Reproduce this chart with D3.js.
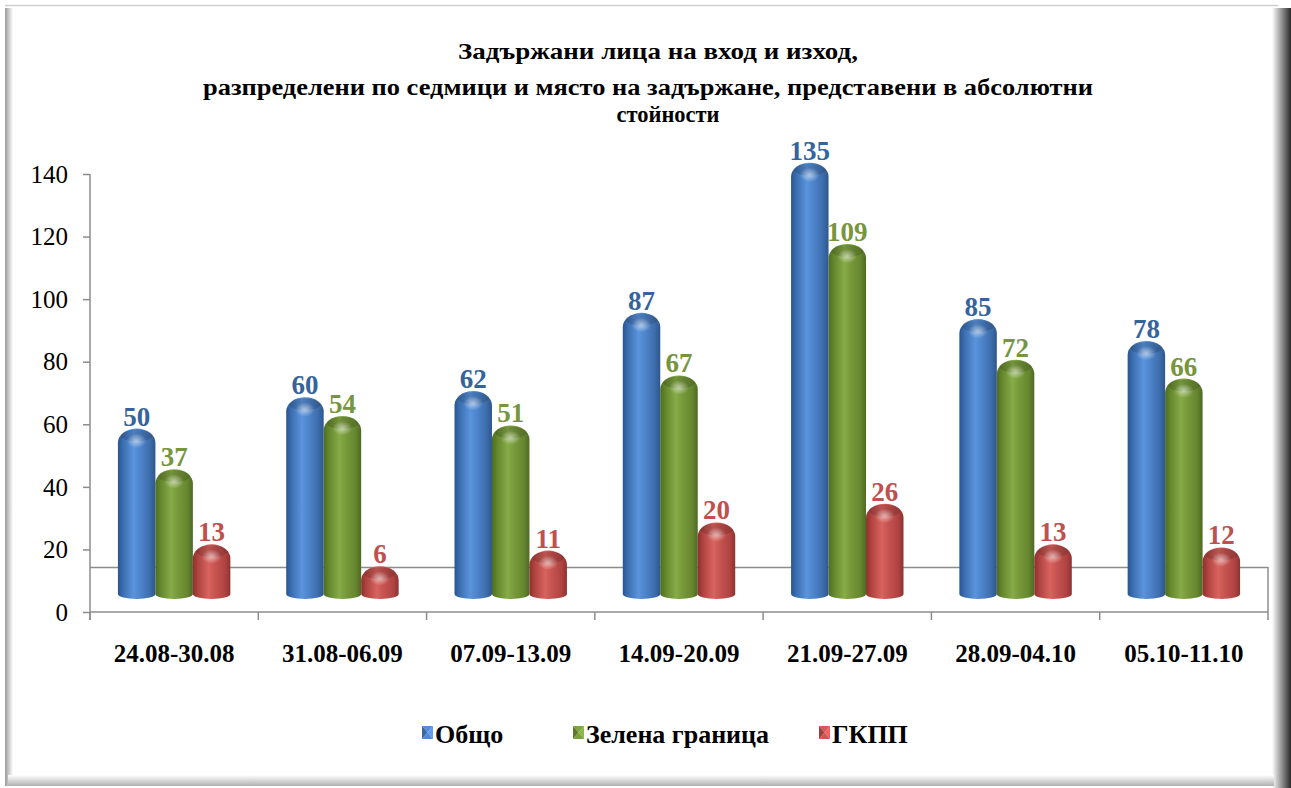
<!DOCTYPE html>
<html>
<head>
<meta charset="utf-8">
<script src="https://cdn.jsdelivr.net/npm/d3@7"></script>
<style>
  html, body { margin: 0; padding: 0; background: #fff; }
  svg { display: block; }
  text { font-family: "Liberation Serif", "Times New Roman", serif; }
</style>
</head>
<body>
<div id="chart"></div>
<script>
// data
var categories = ["24.08-30.08", "31.08-06.09", "07.09-13.09", "14.09-20.09", "21.09-27.09", "28.09-04.10", "05.10-11.10"];
var seriesNames = ["Общо", "Зелена граница", "ГКПП"];
var obshto = [50, 60, 62, 87, 135, 85, 78];
var zelena = [37, 54, 51, 67, 109, 72, 66];
var gkpp = [13, 6, 11, 20, 26, 13, 12];
var yTicks = [0, 20, 40, 60, 80, 100, 120, 140];
var titleLines = ["Задържани лица на вход и изход,",
                  "разпределени по седмици  и  място на задържане, представени в абсолютни",
                  "стойности"];

var W = 1291, H = 788;
var plot = {left: 90, right: 1268, top: 174, bottom: 612};
var depth = 27; // 3d offset of the bars above the axis zero

var seriesValues = [obshto, zelena, gkpp];
var colors = [
    {stops: ["#2a558e", "#3d70b3", "#5a94dc", "#4d84cb", "#3e6dac", "#2d578c"], label: "#35649c"},
    {stops: ["#4f6c22", "#66882e", "#86ab47", "#77993a", "#66872f", "#4f6a22"], label: "#76953d"},
    {stops: ["#8e302e", "#b14541", "#d8635f", "#c65350", "#b04442", "#8f3230"], label: "#c0504d"}
];

var svg = d3.select("#chart").append("svg")
    .attr("width", W)
    .attr("height", H);

var defs = svg.append("defs");

// cylinder shading gradients
colors.forEach(function(c, i) {
    var g = defs.append("linearGradient").attr("id", "cyl" + i)
        .attr("x1", "0%").attr("x2", "100%").attr("y1", "0%").attr("y2", "0%");
    var offs = [0, 0.15, 0.42, 0.6, 0.85, 1];
    offs.forEach(function(o, k) {
        g.append("stop").attr("offset", o).attr("stop-color", c.stops[k]);
    });
});
var hl = defs.append("radialGradient").attr("id", "hilite")
    .attr("cx", "45%").attr("cy", "45%").attr("r", "45%");
hl.append("stop").attr("offset", 0).attr("stop-color", "#fff").attr("stop-opacity", 0.55);
hl.append("stop").attr("offset", 1).attr("stop-color", "#fff").attr("stop-opacity", 0);

// frame shadows
function lin(id, x2, y2, c1, c2) {
    var g = defs.append("linearGradient").attr("id", id)
        .attr("x1", 0).attr("y1", 0).attr("x2", x2).attr("y2", y2);
    g.append("stop").attr("offset", 0).attr("stop-color", c1);
    g.append("stop").attr("offset", 1).attr("stop-color", c2);
}
lin("shLeft", 1, 0, "#9a9a9a", "#ffffff");
lin("shRight", 1, 0, "#ffffff", "#2a2a2a");
lin("shBottom", 0, 1, "#ffffff", "#b0b0b0");

svg.append("rect").attr("x", 0).attr("y", 0).attr("width", W).attr("height", H).attr("fill", "#fff");
svg.append("rect").attr("x", 5).attr("y", 8).attr("width", 8).attr("height", 778).attr("fill", "url(#shLeft)");
svg.append("rect").attr("x", 1272).attr("y", 8).attr("width", 19).attr("height", 780).attr("fill", "url(#shRight)");
svg.append("rect").attr("x", 8).attr("y", 775).attr("width", 1266).attr("height", 11).attr("fill", "url(#shBottom)");
svg.append("line").attr("x1", 5).attr("x2", 1278).attr("y1", 5.5).attr("y2", 5.5)
    .attr("stroke", "#cfcfcf").attr("stroke-width", 1.5);

// title
var titlePos = [{x: 658, y: 59}, {x: 648, y: 95}, {x: 668, y: 122}];
var titleLen = [400, 890, 103];
svg.append("g").selectAll("text")
    .data(titleLines)
    .enter().append("text")
    .attr("x", function(d, i) { return titlePos[i].x; })
    .attr("y", function(d, i) { return titlePos[i].y; })
    .attr("text-anchor", "middle")
    .attr("font-weight", "bold")
    .attr("font-size", 23)
    .attr("textLength", function(d, i) { return titleLen[i]; })
    .attr("lengthAdjust", "spacingAndGlyphs")
    .text(function(d) { return d; });

// scales
var x0 = d3.scaleBand().domain(categories).range([plot.left, plot.right]).paddingInner(0).paddingOuter(0);
var x1 = d3.scaleBand().domain(seriesNames).range([0, x0.bandwidth()]).paddingInner(0).paddingOuter(0.745);
var y = d3.scaleLinear().domain([0, 140]).range([plot.bottom, plot.top]);

// floor box (back edge + right edge)
var axisColor = "#8c8c8c";
svg.append("line").attr("x1", plot.left).attr("x2", plot.right).attr("y1", 567.5).attr("y2", 567.5)
    .attr("stroke", axisColor).attr("stroke-width", 1.5);
svg.append("line").attr("x1", plot.right).attr("x2", plot.right).attr("y1", 567).attr("y2", plot.bottom)
    .attr("stroke", axisColor).attr("stroke-width", 1.5);

// y axis
var yAxis = svg.append("g")
    .attr("transform", "translate(" + plot.left + ",0)")
    .call(d3.axisLeft(y).tickValues(yTicks).tickSize(7).tickPadding(15));
yAxis.select(".domain").attr("d", "M0," + plot.top + "V" + (plot.bottom + 8));
yAxis.selectAll("path, line").attr("stroke", axisColor).attr("stroke-width", 1.5);
yAxis.selectAll("text")
    .attr("font-size", 25)
    .attr("fill", "#000")
    .attr("dy", "0.33em");

// x axis
var xAxis = svg.append("g")
    .attr("transform", "translate(0," + plot.bottom + ")")
    .call(d3.axisBottom(x0).tickSize(0).tickPadding(32));
xAxis.select(".domain").attr("d", "M" + plot.left + ",0H" + plot.right);
xAxis.selectAll("path").attr("stroke", axisColor).attr("stroke-width", 1.5);
xAxis.selectAll("text")
    .attr("font-size", 25)
    .attr("font-weight", "bold")
    .attr("fill", "#000");
// category boundary ticks
var bounds = categories.map(function(c) { return x0(c); }).concat([plot.right]);
xAxis.selectAll(".bound").data(bounds).enter().append("line")
    .attr("x1", function(d) { return d; }).attr("x2", function(d) { return d; })
    .attr("y1", 0).attr("y2", 8)
    .attr("stroke", axisColor).attr("stroke-width", 1.5);

// bars drawn as cylinders
var domeRy = 14, baseRy = 5;
var baseY = y(0) - 13 - baseRy;

function cylPath(bx, bw, top) {
    var r = bw / 2;
    var ty = Math.min(top + domeRy, baseY);
    return "M" + bx + "," + baseY +
        "V" + ty +
        "A" + r + "," + domeRy + " 0 0 1 " + (bx + bw) + "," + ty +
        "V" + baseY +
        "A" + r + "," + baseRy + " 0 0 1 " + bx + "," + baseY + "Z";
}

var barData = [];
categories.forEach(function(c, ci) {
    seriesNames.forEach(function(s, si) {
        barData.push({cat: c, s: s, si: si, v: seriesValues[si][ci]});
    });
});

var bars = svg.append("g").selectAll("g")
    .data(barData)
    .enter().append("g");

bars.append("path")
    .attr("d", function(d) {
        return cylPath(x0(d.cat) + x1(d.s), x1.bandwidth(), y(d.v) - depth);
    })
    .attr("fill", function(d) { return "url(#cyl" + d.si + ")"; });

// darker cap tint + highlight spot on the dome
bars.append("ellipse")
    .attr("cx", function(d) { return x0(d.cat) + x1(d.s) + x1.bandwidth() / 2; })
    .attr("cy", function(d) { return y(d.v) - depth + 7; })
    .attr("rx", x1.bandwidth() / 2 - 3)
    .attr("ry", 6)
    .attr("fill", "#000")
    .attr("opacity", 0.14);
bars.append("ellipse")
    .attr("cx", function(d) { return x0(d.cat) + x1(d.s) + x1.bandwidth() / 2 + 1; })
    .attr("cy", function(d) { return y(d.v) - depth + 13; })
    .attr("rx", 11)
    .attr("ry", 8)
    .attr("fill", "url(#hilite)");

// value labels
bars.append("text")
    .attr("x", function(d) { return x0(d.cat) + x1(d.s) + x1.bandwidth() / 2; })
    .attr("y", function(d) { return y(d.v) - depth - 3; })
    .attr("text-anchor", "middle")
    .attr("font-weight", "bold")
    .attr("font-size", 27)
    .attr("fill", function(d) { return colors[d.si].label; })
    .text(function(d) { return d.v; });

// legend
var legendX = [422, 573, 819];
var legend = svg.append("g").selectAll("g")
    .data(seriesNames)
    .enter().append("g")
    .attr("transform", function(d, i) { return "translate(" + legendX[i] + ",726)"; });

function tri(pts) { return "M" + pts.map(function(p) { return p.join(","); }).join("L") + "Z"; }
var mw = 11, mh = 13;
var shade = [
    {p: [[0, 0], [mw, 0], [mw / 2, mh / 2]], k: 0.1},
    {p: [[0, 0], [mw / 2, mh / 2], [0, mh]], k: -0.35},
    {p: [[mw, 0], [mw, mh], [mw / 2, mh / 2]], k: 0.25},
    {p: [[0, mh], [mw / 2, mh / 2], [mw, mh]], k: 0.05}
];
legend.each(function(d, i) {
    var g = d3.select(this);
    var base = d3.color(colors[i].stops[3]);
    shade.forEach(function(sh) {
        g.append("path").attr("d", tri(sh.p))
            .attr("fill", sh.k > 0 ? base.brighter(sh.k * 2) : base.darker(-sh.k * 2));
    });
});
legend.append("text")
    .attr("x", 13)
    .attr("y", 17)
    .attr("font-weight", "bold")
    .attr("font-size", 26)
    .attr("fill", "#000")
    .text(function(d) { return d; });
</script>
</body>
</html>
